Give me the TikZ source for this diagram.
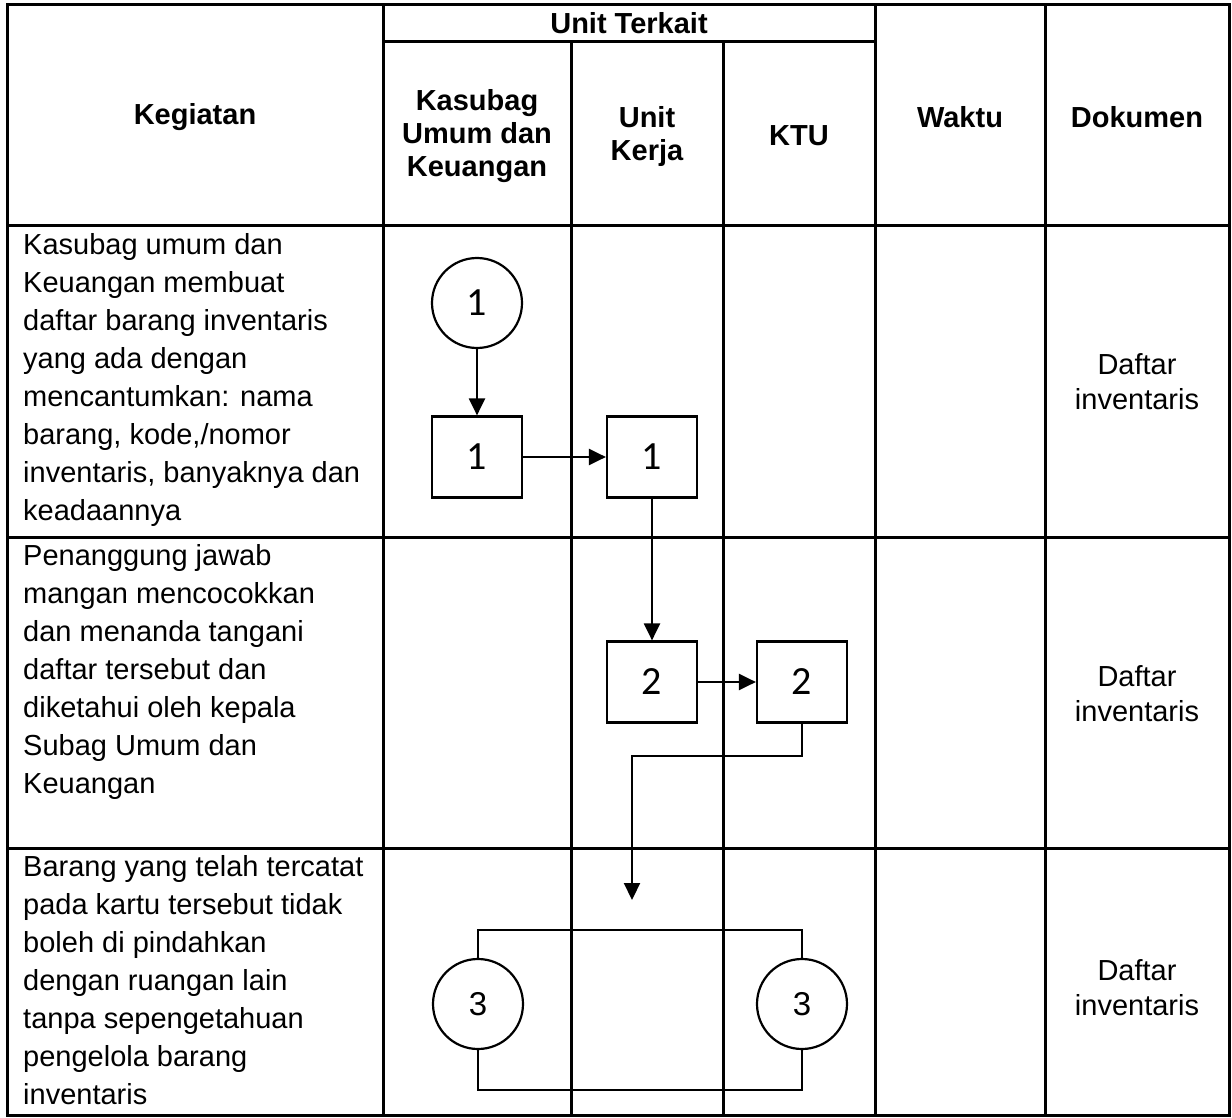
\documentclass[tikz,border=0pt]{standalone}
\usepackage{fontspec}
\setmainfont{Liberation Sans}
\newfontfamily\angkafont{Carlito}
\usetikzlibrary{arrows.meta}
\tikzset{
  garis/.style={line width=3pt},
  alur/.style={line width=2.2pt},
  kotak/.style={draw, alur, minimum width=90pt, minimum height=81pt, inner sep=0pt, font=\angkafont\fontsize{40}{40}\selectfont},
  bulat/.style={draw, alur, circle, minimum size=90pt, inner sep=0pt, fill=white},
  panah/.style={alur, -{Triangle[length=17pt,width=16pt]}},
  judul/.style={inner sep=0pt, align=center, font=\bfseries\fontsize{29}{33}\selectfont},
  isi/.style={anchor=north west, inner sep=0pt, align=left, font=\fontsize{29}{38}\selectfont},
  dok/.style={inner sep=0pt, align=center, font=\fontsize{29}{35}\selectfont}
}
\begin{document}
\begin{tikzpicture}[x=1pt, y=-1pt]
  \useasboundingbox (0,0) rectangle (1232,1118);
  \draw[garis] (7,5) rectangle (1229,1115);
  \draw[garis] (383,42) -- (875,42);
  \foreach \y in {226,537,848} \draw[garis] (7,\y) -- (1229,\y);
  \foreach \x in {383,875,1045} \draw[garis] (\x,5) -- (\x,1115);
  \foreach \x in {571,723} \draw[garis] (\x,42) -- (\x,1115);

  \node[judul] (kegiatan) at (195,117) {Kegiatan};
  \node[judul] (unit) at (629,23) {Unit Terkait};
  \node[judul] (kasubag) at (477,136) {Kasubag\\Umum dan\\Keuangan};
  \node[judul] (unitkerja) at (647,137) {Unit\\Kerja};
  \node[judul] (ktu) at (799,136) {KTU};
  \node[judul] (waktu) at (960,117) {Waktu};
  \node[judul] (dokumen) at (1137,117) {Dokumen};

  \node[isi] (keg1) at (23,233) {Kasubag umum dan\\Keuangan membuat\\daftar barang inventaris\\yang ada dengan\\mencantumkan: nama\\barang, kode,/nomor\\inventaris, banyaknya dan\\keadaannya};
  \node[isi] (keg2) at (23,544) {Penanggung jawab\\mangan mencocokkan\\dan menanda tangani\\daftar tersebut dan\\diketahui oleh kepala\\Subag Umum dan\\Keuangan};
  \node[isi] (keg3) at (23,855) {Barang yang telah tercatat\\pada kartu tersebut tidak\\boleh di pindahkan\\dengan ruangan lain\\tanpa sepengetahuan\\pengelola barang\\inventaris};

  \node[dok] (dok1) at (1137,382) {Daftar\\inventaris};
  \node[dok] (dok2) at (1137,694) {Daftar\\inventaris};
  \node[dok] (dok3) at (1137,988) {Daftar\\inventaris};

  \node[bulat, font=\angkafont\fontsize{40}{40}\selectfont] (c1) at (477,303) {1};
  \node[kotak] (b1) at (477,457) {1};
  \node[kotak] (b2) at (652,457) {1};
  \node[kotak] (b3) at (652,682) {2};
  \node[kotak] (b4) at (802,682) {2};
  \coordinate (t3) at (632,900);
  \node[bulat, font=\fontsize{33}{33}\selectfont] (c3a) at (478,1004) {3};
  \node[bulat, font=\fontsize{33}{33}\selectfont] (c3b) at (802,1004) {3};

  \draw[panah] (c1) -- (b1);
  \draw[panah] (b1) -- (b2);
  \draw[panah] (b2) -- (b3);
  \draw[panah] (b3) -- (b4);
  \draw[panah] (b4.south) -- ++(0,32) -| (t3);
  \draw[alur] (c3a.north) -- ++(0,-28) -| (c3b.north);
  \draw[alur] (c3a.south) -- ++(0,40) -| (c3b.south);
\end{tikzpicture}
\end{document}
